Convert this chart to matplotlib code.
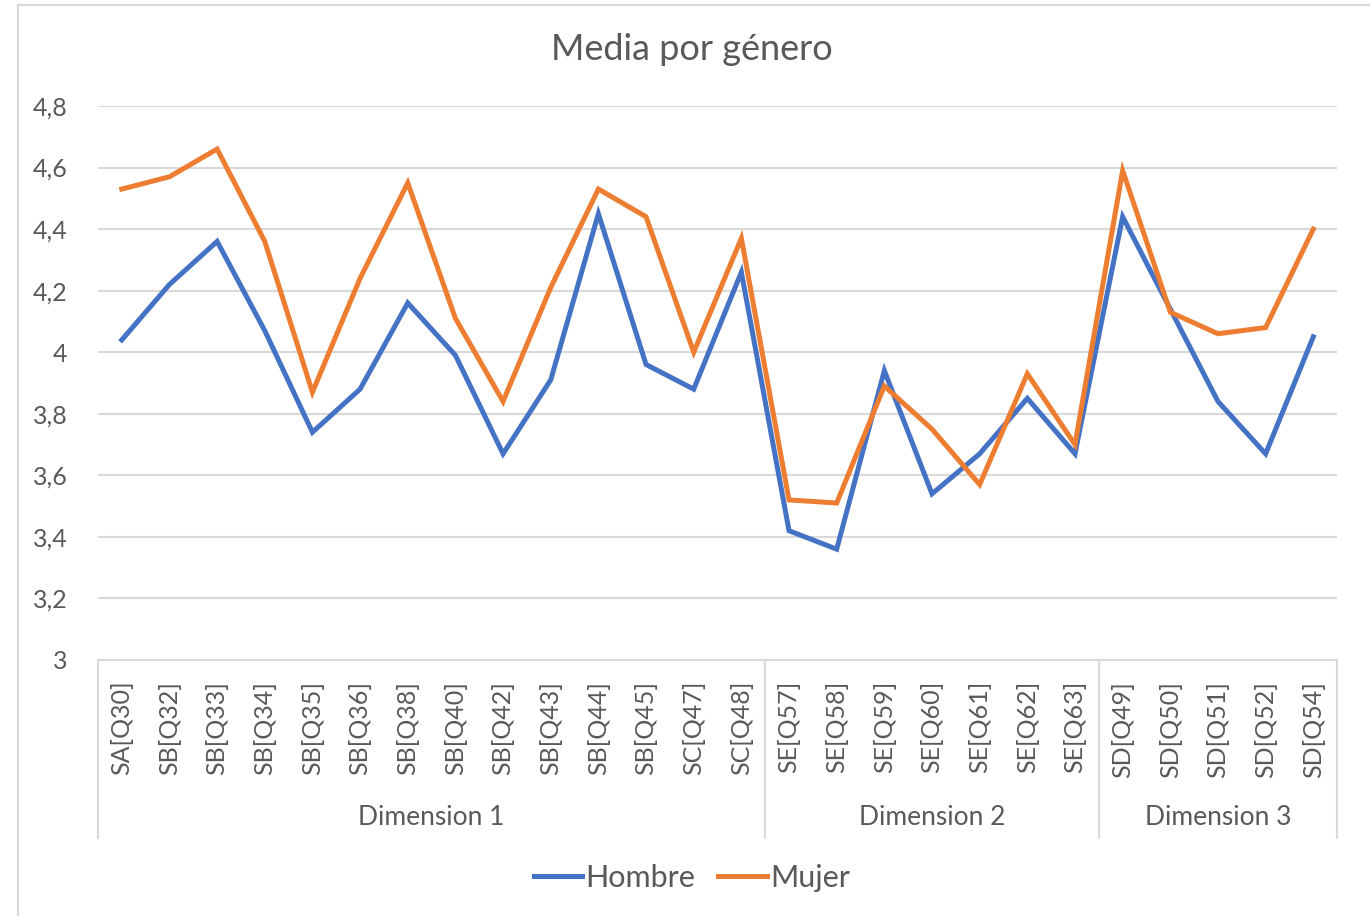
"""Media por género: líneas Hombre / Mujer por ítem, agrupadas por dimensión."""
import matplotlib
matplotlib.use("Agg")
import matplotlib.pyplot as plt
from matplotlib.patches import Rectangle
from matplotlib.ticker import FuncFormatter

items = ["SA[Q30]", "SB[Q32]", "SB[Q33]", "SB[Q34]", "SB[Q35]", "SB[Q36]", "SB[Q38]",
         "SB[Q40]", "SB[Q42]", "SB[Q43]", "SB[Q44]", "SB[Q45]", "SC[Q47]", "SC[Q48]",
         "SE[Q57]", "SE[Q58]", "SE[Q59]", "SE[Q60]", "SE[Q61]", "SE[Q62]", "SE[Q63]",
         "SD[Q49]", "SD[Q50]", "SD[Q51]", "SD[Q52]", "SD[Q54]"]
hombre = [4.04, 4.22, 4.36, 4.07, 3.74, 3.88, 4.16, 3.99, 3.67, 3.91, 4.45, 3.96, 3.88, 4.26,
          3.42, 3.36, 3.94, 3.54, 3.67, 3.85, 3.67,
          4.44, 4.14, 3.84, 3.67, 4.05]
mujer = [4.53, 4.57, 4.66, 4.36, 3.87, 4.24, 4.55, 4.11, 3.84, 4.21, 4.53, 4.44, 4.00, 4.37,
         3.52, 3.51, 3.89, 3.75, 3.57, 3.93, 3.70,
         4.59, 4.13, 4.06, 4.08, 4.40]
grupos = ["Dimension 1", "Dimension 2", "Dimension 3"]
grupo_n = [14, 7, 5]
y_ticks = [3.0, 3.2, 3.4, 3.6, 3.8, 4.0, 4.2, 4.4, 4.6, 4.8]

GRIS = "#595959"
LINEA = "#D9D9D9"
plt.rcParams["font.family"] = ["Lato", "DejaVu Sans"]

fig = plt.figure(figsize=(13.7, 9.16), dpi=100)
ax = fig.add_axes([0.0715, 0.2795, 0.9045, 0.6048])

x = list(range(len(items)))
ax.plot(x, hombre, color="#4472C4", lw=3.6, label="Hombre", solid_joinstyle="miter")
ax.plot(x, mujer, color="#ED7D31", lw=3.6, label="Mujer", solid_joinstyle="miter")

ax.set_xlim(-0.5, len(items) - 0.5)
ax.set_ylim(y_ticks[0], y_ticks[-1])
ax.set_yticks(y_ticks)
ax.yaxis.set_major_formatter(FuncFormatter(lambda v, _: f"{v:g}".replace(".", ",")))
ax.grid(axis="y", color=LINEA, lw=1.5)
ax.set_axisbelow(True)
for s in ax.spines.values():
    s.set_visible(False)
ax.tick_params(axis="y", length=0, pad=22, labelsize=18, labelcolor=GRIS)
ax.set_xticks(x)
ax.set_xticklabels(items, rotation=90, fontsize=18, color=GRIS)
ax.tick_params(axis="x", length=0, pad=15)

# separadores de grupo y etiquetas bajo el eje
tr = ax.get_xaxis_transform()
ax.plot([-0.5, len(items) - 0.5], [0, 0], transform=tr, color=LINEA, lw=1.5, clip_on=False)
inicio = -0.5
ax.plot([inicio, inicio], [0, -0.322], transform=tr, color=LINEA, lw=1.5, clip_on=False)
for nombre, n in zip(grupos, grupo_n):
    fin = inicio + n
    ax.plot([fin, fin], [0, -0.322], transform=tr, color=LINEA, lw=1.5, clip_on=False)
    ax.text((inicio + fin) / 2, -0.285, nombre, transform=tr, ha="center", va="center",
            fontsize=19, color=GRIS)
    inicio = fin

fig.text(0.505, 0.946, "Media por género", ha="center", va="center", fontsize=26, color=GRIS)
fig.legend(loc="center", bbox_to_anchor=(0.505, 0.042), ncol=2, frameon=False, fontsize=22,
           handlelength=1.6, handletextpad=0.1, columnspacing=0.75, labelcolor=GRIS)

fig.add_artist(Rectangle((18 / 1370, -0.01), 1.0, 1 - 5 / 916 + 0.01,
                         transform=fig.transFigure, fill=False, edgecolor=LINEA, lw=1.5))

fig.savefig("out.png", dpi=100, facecolor="white")
